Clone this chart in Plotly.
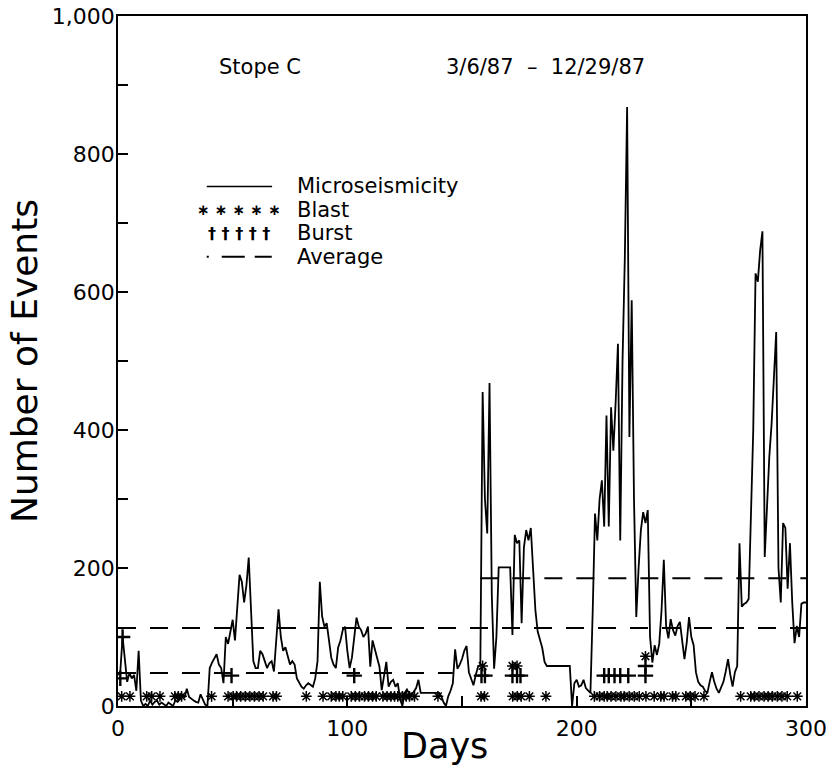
import plotly.graph_objects as go

# ---------------- data ----------------
day = list(range(301))
micro = [
    45, 50, 100, 62, 35, 48, 40, 45, 22, 80, 8,
    0, 3, 0, 8, 2, 6, 8, 2, 5, 3,
    0, 5, 2, 0, 8, 6, 10, 17, 12, 25,
    13, 10, 8, 6, 5, 17, 8, 2, 0, 55,
    63, 70, 75, 60, 55, 33, 100, 90, 110, 125,
    95, 140, 190, 180, 150, 175, 215, 140, 65, 55,
    55, 80, 75, 65, 55, 62, 65, 50, 100, 140,
    100, 80, 85, 70, 60, 65, 60, 40, 33, 28,
    25, 30, 33, 30, 28, 40, 65, 180, 130, 115,
    120, 95, 70, 60, 55, 85, 95, 110, 115, 80,
    55, 70, 100, 128, 115, 110, 100, 105, 115, 57,
    95, 83, 70, 57, 23, 45, 64, 28, 35, 38,
    28, 33, 10, 0, 19, 24, 18, 16, 22, 26,
    38, 19, 19, 19, 19, 19, 19, 19, 19, 19,
    14, 5, 0, 14, 22, 33, 82, 54, 60, 68,
    80, 87, 49, 40, 30, 45, 57, 60, 455, 300,
    250, 468, 160, 54, 100, 201, 201, 201, 201, 201,
    201, 103, 248, 236, 240, 120, 230, 255, 240, 258,
    200, 139, 108, 95, 84, 64, 58, 58, 58, 58,
    58, 58, 58, 58, 58, 58, 58, 0, 33, 38,
    28, 30, 38, 26, 22, 19, 138, 279, 240, 300,
    327, 260, 421, 260, 433, 370, 440, 525, 240, 500,
    650, 868, 390, 588, 300, 129, 200, 255, 281, 265,
    284, 100, 63, 88, 74, 90, 138, 212, 116, 98,
    126, 110, 102, 116, 122, 90, 68, 92, 129, 100,
    88, 49, 35, 30, 28, 22, 19, 35, 49, 35,
    25, 19, 28, 35, 50, 68, 45, 28, 49, 58,
    236, 144, 148, 150, 155, 274, 400, 627, 615, 660,
    688, 216, 300, 361, 409, 480, 542, 200, 150, 265,
    258, 170, 236, 150, 91, 116, 100, 148, 150, 150,
]

blast_day = [1.6, 5.2, 12.5, 14.7, 18.3, 24.8, 26.3, 27.7, 40.8, 48, 50.2, 51.7,
             53.5, 55.5, 57.5, 59.5, 61.5, 63.3, 67.6, 69.1, 82.1, 89.4, 93, 95,
             96.5, 98, 101.7, 103.5, 105.3, 107.5, 109.2, 111, 112.6, 115.5, 117.3,
             119, 120.6, 122, 124, 125.7, 127.1, 129.3, 139.5, 158.3, 159.8, 159,
             172.1, 172, 174.1, 174, 175.8, 179.4, 186.6, 207.7, 210, 212, 213.3,
             215, 217.1, 219.3, 220.7, 222.9, 225.1, 227.3, 230.2, 230, 233.8,
             236.7, 238.1, 241.8, 243.2, 247.6, 249.5, 251.6, 255.5, 271.5, 275.9,
             277.5, 279.5, 281.7, 283.5, 285.3, 287.5, 289.5, 291.8, 296.2]
blast_n = [14] * len(blast_day)
for i, d in enumerate(blast_day):
    if d in (159, 172, 174):
        blast_n[i] = 58
    if d == 230:
        blast_n[i] = 72

burst_day = [1, 2, 49.5, 103, 158.5, 160, 172, 174, 175.5, 212, 214, 216.5, 219,
             222.5, 230, 230]
burst_n = [40, 100, 44, 44, 44, 44, 44, 44, 44, 44, 44, 44, 44, 44, 44, 58]

avg_start = [0, 0, 158]
avg_end = [146, 300, 300]
avg_value = [48, 113, 185]

y_ticks = list(range(0, 1001, 100))
y_labels = ["0", "", "200", "", "400", "", "600", "", "800", "", "1,000"]
x_ticks = [0, 50, 100, 150, 200, 250, 300]
x_labels = ["0", "", "100", "", "200", "", "300"]

series_names = ["Microseismicity", "Blast", "Burst", "Average"]

FONT = "DejaVu Sans"
BLACK = "black"

# ---------------- figure ----------------
fig = go.Figure()
fig.add_trace(go.Scatter(
    x=day, y=micro, mode="lines", name=series_names[0],
    line=dict(color=BLACK, width=1.8)))
fig.add_trace(go.Scatter(
    x=blast_day, y=blast_n, mode="markers", name=series_names[1],
    marker=dict(symbol="asterisk", size=9, color=BLACK,
                line=dict(color=BLACK, width=1.5))))
fig.add_trace(go.Scatter(
    x=burst_day, y=burst_n, mode="markers", name=series_names[2],
    marker=dict(symbol="cross-thin", size=11, color=BLACK,
                line=dict(color=BLACK, width=2.4))))
ax, ay = [], []
for s, e, v in zip(avg_start, avg_end, avg_value):
    ax += [s, e, None]
    ay += [v, v, None]
fig.add_trace(go.Scatter(
    x=ax, y=ay, mode="lines", name=series_names[3],
    line=dict(color=BLACK, width=2, dash="18px,14px")))

axis_common = dict(
    showgrid=False, zeroline=False, showline=True, mirror=True,
    linecolor=BLACK, linewidth=1.6, ticks="inside", ticklen=10,
    tickcolor=BLACK, tickwidth=1.5, automargin=False,
    tickfont=dict(family=FONT, size=22, color=BLACK),
)
fig.update_xaxes(range=[0, 300], tickvals=x_ticks, ticktext=x_labels,
                 ticklabelstandoff=2, **axis_common)
fig.update_yaxes(range=[0, 1000], tickvals=y_ticks, ticktext=y_labels,
                 ticklabelstandoff=-3,
                 title=dict(text="Number of Events",
                            font=dict(family=FONT, size=36, color=BLACK),
                            standoff=3),
                 **axis_common)

# x-axis title (placed slightly left of centre as in the original)
fig.add_annotation(text="Days", xref="paper", yref="paper", x=0.474, y=-0.058,
                   xanchor="center", yanchor="middle", showarrow=False,
                   font=dict(family=FONT, size=35, color=BLACK))

# header texts
fig.add_annotation(text="Stope C", xref="paper", yref="paper", x=0.206, y=0.926,
                   xanchor="center", yanchor="middle", showarrow=False,
                   font=dict(family=FONT, size=21, color=BLACK))
fig.add_annotation(text="3/6/87  \u2013  12/29/87", xref="paper", yref="paper",
                   x=0.621, y=0.926, xanchor="center", yanchor="middle",
                   showarrow=False, font=dict(family=FONT, size=21, color=BLACK))

# hand-made legend (sample glyphs repeated as in the original)
leg_x0, leg_x1, leg_tx = 0.129, 0.224, 0.257
leg_rows = [0.753, 0.719, 0.685, 0.651]
leg_font = dict(family=FONT, size=21, color=BLACK)
for name, yy in zip(series_names, leg_rows):
    fig.add_annotation(text=name, xref="paper", yref="paper", x=leg_tx, y=yy,
                       xanchor="left", yanchor="middle", showarrow=False, font=leg_font)
fig.add_shape(type="line", xref="paper", yref="paper", x0=leg_x0, x1=leg_x1,
              y0=leg_rows[0], y1=leg_rows[0], line=dict(color=BLACK, width=1.6))
fig.add_annotation(text="<b>\u2217 \u2217 \u2217 \u2217 \u2217</b>", xref="paper",
                   yref="paper", x=(leg_x0 + leg_x1) / 2, y=leg_rows[1],
                   xanchor="center", yanchor="middle", showarrow=False,
                   font=dict(family=FONT, size=15, color=BLACK))
fig.add_annotation(text="<b>\u2020 \u2020 \u2020 \u2020 \u2020</b>", xref="paper",
                   yref="paper", x=(leg_x0 + leg_x1) / 2, y=leg_rows[2],
                   xanchor="center", yanchor="middle", showarrow=False,
                   font=dict(family=FONT, size=16, color=BLACK))
fig.add_shape(type="line", xref="paper", yref="paper", x0=leg_x0, x1=leg_x1,
              y0=leg_rows[3], y1=leg_rows[3],
              line=dict(color=BLACK, width=2, dash="2px,13px,23px,10px,17px,50px"))

fig.update_layout(
    width=828, height=773,
    margin=dict(l=118, r=22, t=16, b=67),
    paper_bgcolor="white", plot_bgcolor="white",
    font=dict(family=FONT, color=BLACK),
    showlegend=False,
)

fig.write_html("out.html")
